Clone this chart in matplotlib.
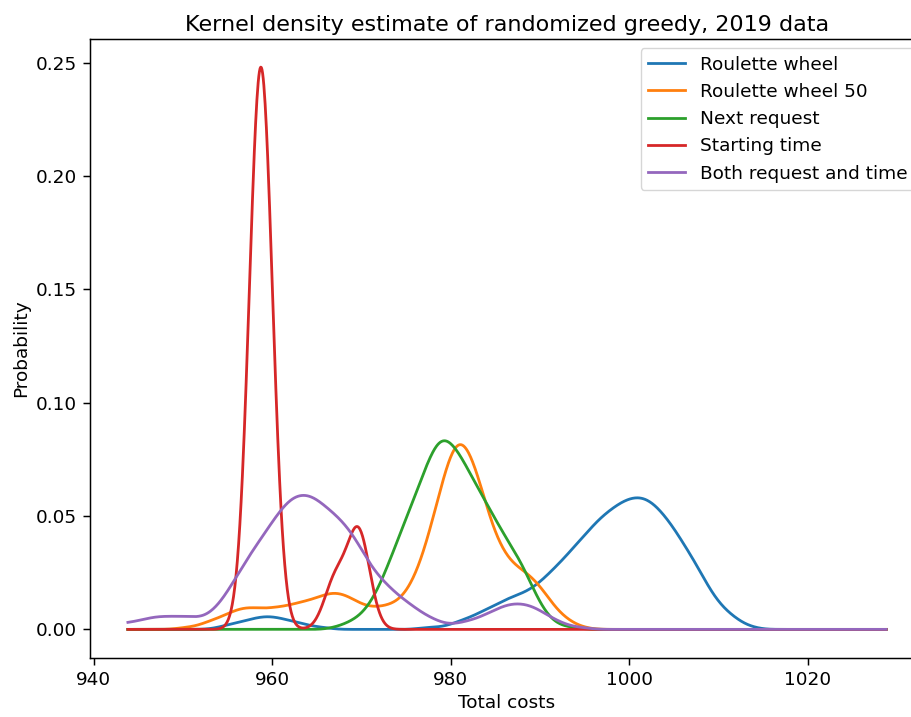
import numpy as np
import matplotlib.pyplot as plt

# Total cost of each randomized greedy run (2019 data) and how many runs hit it
RW_COSTS = list(range(954, 1015))
RW_RUNS = [1, 2, 3, 4, 5, 6, 6, 5, 4, 3, 2, 1, 1,
           0, 0, 0, 0, 0, 0, 0, 0, 0, 0,
           1, 1, 1, 2, 4, 5, 7, 9, 11, 13, 15, 16, 18, 21, 25, 29, 33, 38, 42, 47,
           51, 54, 57, 59, 60, 59, 56, 51, 46, 39, 33, 26, 18, 12, 8, 5, 2, 1]

RW50_COSTS = list(range(950, 996))
RW50_RUNS = [1, 1, 2, 4, 5, 7, 9, 10, 10, 9, 10, 10, 11, 12, 13, 14, 16, 17, 16, 14,
             11, 10, 10, 11, 12, 16, 23, 34, 49, 65, 81, 89, 82, 71, 55, 42, 34, 29,
             27, 24, 20, 14, 8, 5, 2, 1]

NEXT_COSTS = list(range(967, 995))
NEXT_RUNS = [1, 2, 4, 6, 11, 18, 28, 38, 48, 58, 68, 79, 86, 82, 77, 69, 62, 55,
             48, 41, 35, 29, 20, 11, 5, 2, 1, 1]

START_COSTS = [958.45, 959.05, 967.1, 969.7]
START_RUNS = [6, 6, 1, 2]

BOTH_COSTS = list(range(941, 996))
BOTH_RUNS = [1, 2, 3, 3, 4, 5, 6, 6, 6, 6, 6, 5, 7, 11, 17, 24, 31, 37, 43, 49,
             55, 60, 62, 62, 60, 56, 53, 49, 44, 37, 29, 24, 20, 16, 13, 10, 7, 5,
             3, 2, 3, 4, 5, 7, 9, 11, 12, 12, 11, 9, 6, 4, 2, 1, 1]

LABELS = ['Roulette wheel', 'Roulette wheel 50', 'Next request',
          'Starting time', 'Both request and time']
BANDWIDTHS = [1.0, 1.0, 1.0, 1.25, 1.0]
GRID_LO, GRID_HI = 943.85, 1028.8


def gaussian_kde(costs, runs, bw, grid):
    costs = np.asarray(costs, dtype=float)
    w = np.asarray(runs, dtype=float)
    z = (grid[:, None] - costs[None, :]) / bw
    dens = (w * np.exp(-0.5 * z ** 2)).sum(axis=1)
    return dens / (w.sum() * bw * np.sqrt(2 * np.pi))


plt.rcParams.update({
    'font.size': 13.3,
    'axes.titlesize': 16,
    'axes.linewidth': 1.07,
    'xtick.major.width': 1.07,
    'ytick.major.width': 1.07,
    'xtick.major.size': 4.7,
    'ytick.major.size': 4.7,
    'xtick.major.pad': 4.7,
    'ytick.major.pad': 4.7,
    'lines.linewidth': 2.0,
})

grid = np.linspace(GRID_LO, GRID_HI, 1200)
series = [(RW_COSTS, RW_RUNS), (RW50_COSTS, RW50_RUNS), (NEXT_COSTS, NEXT_RUNS),
          (START_COSTS, START_RUNS), (BOTH_COSTS, BOTH_RUNS)]

fig = plt.figure(figsize=(9.12, 7.17), dpi=100)
ax = fig.add_axes([90 / 912, 59.5 / 717, 834 / 912, 618.5 / 717])

for (costs, runs), bw, label in zip(series, BANDWIDTHS, LABELS):
    ax.plot(grid, gaussian_kde(costs, runs, bw, grid), label=label)

ax.set_title('Kernel density estimate of randomized greedy, 2019 data')
ax.set_xlabel('Total costs')
ax.set_ylabel('Probability')
ax.legend(loc='upper right')

fig.savefig('out.png', dpi=100)
